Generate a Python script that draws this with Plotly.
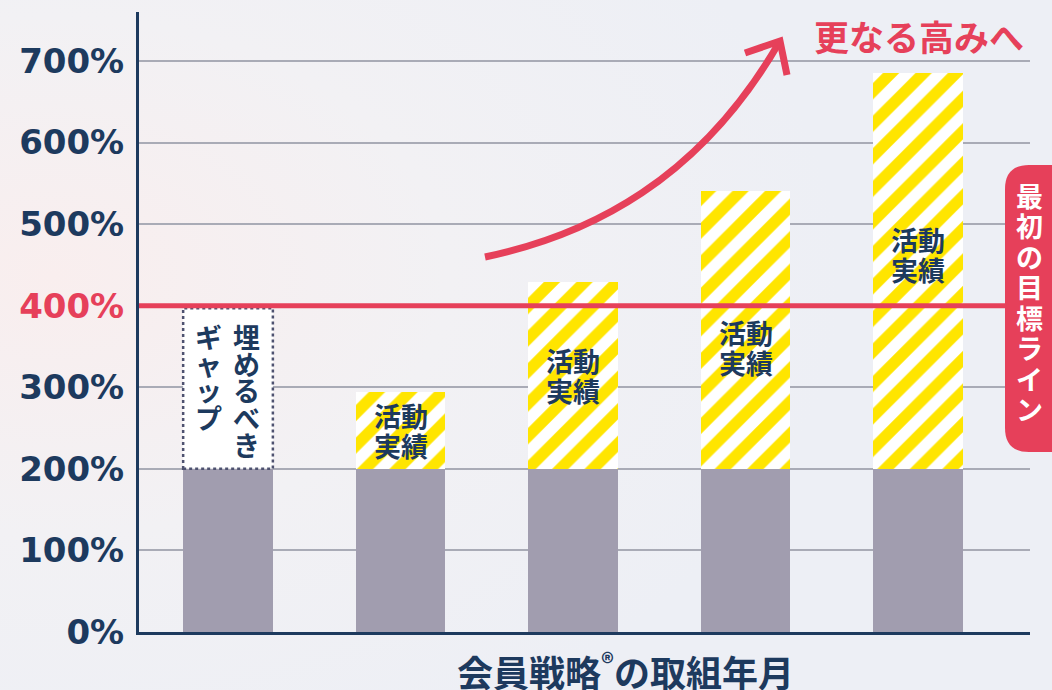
import base64
import plotly.graph_objects as go

# ---------------- data ----------------
categories = ["1", "2", "3", "4", "5"]
base_values = [200, 200, 200, 200, 200]          # gray base (%)
total_values = [200, 294, 429, 541, 685]          # bar tops (%)
target_value = 400                                # first target line (%)
tick_vals = [0, 100, 200, 300, 400, 500, 600, 700]
tick_labels = ["0%", "100%", "200%", "300%", "400%", "500%", "600%", "700%"]
activity_label = ["活動", "実績"]
activity_label_y = [None, 247, 314, 349, 463]     # label centres (%)
gap_cols = ["埋めるべき", "ギャップ"]
target_label = "最初の目標ライン"
arrow_label = "更なる高みへ"
x_title = "会員戦略<sup>®</sup>の取組年月"

# ---------------- style ----------------
NAVY = "#1D3A5E"
RED = "#E6405A"
GRAY = "#A19DAF"
YELLOW = "#FFE500"
CJK = "Noto Sans CJK JP"

W_FIG, H_FIG = 1052, 690
L, R, T, B = 139, 1030, 12, 632
PW, PH = R - L, B - T


def px(x):
    return (x - L) / PW


def py(y):
    return (B - y) / PH


top_values = [t - b for t, b in zip(total_values, base_values)]
bar_w = 0.52

fig = go.Figure()
fig.add_trace(go.Bar(x=list(range(len(categories))), y=base_values, width=bar_w,
                     marker=dict(color=GRAY, line=dict(width=0)), hoverinfo="skip"))
fig.add_trace(go.Bar(x=list(range(len(categories))), y=top_values, width=bar_w,
                     marker=dict(color="white", line=dict(width=0),
                                 pattern=dict(shape="/", fgcolor=YELLOW, bgcolor="white",
                                              size=23, solidity=0.5, fillmode="replace")),
                     hoverinfo="skip"))

shapes = []
# gap box on first bar
shapes.append(dict(type="rect", xref="x", yref="y", x0=0 - bar_w / 2, x1=0 + bar_w / 2,
                   y0=base_values[0], y1=target_value - 3, fillcolor="white",
                   line=dict(color="#4E5270", width=2.5, dash="dot"), layer="above"))
# target line
shapes.append(dict(type="line", xref="paper", yref="y", x0=0, x1=px(1010),
                   y0=target_value, y1=target_value, line=dict(color=RED, width=5), layer="above"))
# target label box
r = 24
box_path = (f"M {px(1070)},{py(165)} L {px(1005 + r)},{py(165)} "
            f"Q {px(1005)},{py(165)} {px(1005)},{py(165 + r)} "
            f"L {px(1005)},{py(452 - r)} Q {px(1005)},{py(452)} {px(1005 + r)},{py(452)} "
            f"L {px(1070)},{py(452)} Z")
shapes.append(dict(type="path", xref="paper", yref="paper", path=box_path,
                   fillcolor=RED, line=dict(width=0), layer="above"))
# arrow
curve = (f"M {px(485)},{py(257)} C {px(590)},{py(235)} {px(700)},{py(180)} {px(780)},{py(41)}")
shapes.append(dict(type="path", xref="paper", yref="paper", path=curve,
                   line=dict(color=RED, width=7), layer="above"))
head = f"M {px(745)},{py(53)} L {px(780)},{py(41)} L {px(787)},{py(75)}"
shapes.append(dict(type="path", xref="paper", yref="paper", path=head,
                   line=dict(color=RED, width=7), layer="above"))

ann = []
# activity labels
for i, yv in enumerate(activity_label_y):
    if yv is None:
        continue
    yc = B - yv * PH / 760
    for k, line in enumerate(activity_label):
        ann.append(dict(x=i, xref="x", y=py(yc - 15 + 30 * k), yref="paper",
                        text=f"<b>{line}</b>", showarrow=False, xanchor="center", yanchor="middle",
                        font=dict(family=CJK, size=27, color=NAVY)))
# gap vertical text (right column first)
col_x = [246, 208]
for c, col in enumerate(gap_cols):
    for k, ch in enumerate(col):
        ann.append(dict(x=px(col_x[c]), xref="paper", y=py(336 + 27 * k), yref="paper",
                        text=f"<b>{ch}</b>", showarrow=False, xanchor="center", yanchor="middle",
                        font=dict(family=CJK, size=27, color=NAVY)))
# target label vertical
for k, ch in enumerate(target_label):
    ann.append(dict(x=px(1029), xref="paper", y=py(195 + 30.5 * k), yref="paper",
                    text=f"<b>{ch}</b>", showarrow=False, xanchor="center", yanchor="middle",
                    font=dict(family=CJK, size=27, color="white")))
# arrow label
ann.append(dict(x=px(919), xref="paper", y=py(36), yref="paper", text=f"<b>{arrow_label}</b>",
                showarrow=False, xanchor="center", yanchor="middle",
                font=dict(family=CJK, size=35, color=RED)))
# x title
ann.append(dict(x=px(625), xref="paper", y=py(670), yref="paper", text=f"<b>{x_title}</b>",
                showarrow=False, xanchor="center", yanchor="middle",
                font=dict(family=CJK, size=36, color=NAVY)))

tick_text = []
for v, t in zip(tick_vals, tick_labels):
    if v == target_value:
        tick_text.append(f"<b><span style='color:{RED}'>{t}</span></b>")
    else:
        tick_text.append(f"<b>{t}</b>")

svg = (f'<svg xmlns="http://www.w3.org/2000/svg" width="{W_FIG}" height="{H_FIG}">'
       '<defs><radialGradient id="g" cx="0.05" cy="0.4" r="0.75">'
       '<stop offset="0" stop-color="#F9EEEE"/><stop offset="0.5" stop-color="#F2F1F4"/>'
       '<stop offset="1" stop-color="#EDEFF5"/></radialGradient></defs>'
       '<rect width="100%" height="100%" fill="url(#g)"/></svg>')
bg_src = "data:image/svg+xml;base64," + base64.b64encode(svg.encode()).decode()

fig.update_layout(
    width=W_FIG, height=H_FIG,
    margin=dict(l=L, r=W_FIG - R, t=T, b=H_FIG - B),
    barmode="stack", showlegend=False,
    paper_bgcolor="#EEF0F5", plot_bgcolor="rgba(0,0,0,0)",
    shapes=shapes, annotations=ann,
    images=[dict(source=bg_src, xref="paper", yref="paper", x=-L / PW, y=1 + T / PH,
                 sizex=W_FIG / PW, sizey=H_FIG / PH, sizing="stretch", layer="below",
                 xanchor="left", yanchor="top")],
    xaxis=dict(range=[-0.516, 4.649], showticklabels=False, showgrid=False, zeroline=False,
               showline=True, linecolor=NAVY, linewidth=3, ticks=""),
    yaxis=dict(range=[0, 760], tickvals=tick_vals, ticktext=tick_text,
               tickfont=dict(family="DejaVu Sans", size=34, color=NAVY),
               showgrid=True, gridcolor="#A9ABB6", gridwidth=1.5, zeroline=False,
               showline=True, linecolor=NAVY, linewidth=3, ticks="", ticklabelstandoff=5),
)

fig.write_html("out.html")
